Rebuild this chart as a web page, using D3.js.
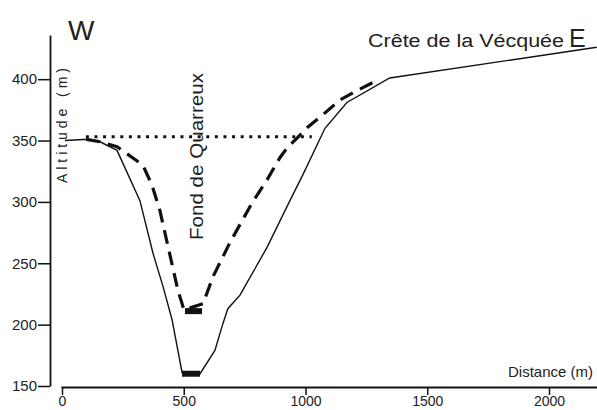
<!DOCTYPE html>
<html>
<head>
<meta charset="utf-8">
<script src="https://cdn.jsdelivr.net/npm/d3@7"></script>
<style>
  body { margin: 0; background: #fff; }
  text { font-family: "Liberation Sans", Arial, sans-serif; fill: #222; }
</style>
</head>
<body>
<svg id="chart" width="597" height="410"></svg>
<script>
// present-day profile (solid) : [distance m, altitude m]
const profileDist = [12, 107, 156, 226, 320, 374, 415, 452, 493, 567, 628, 661, 681, 731, 842, 936, 989, 1080, 1170, 1346, 2196]
const profileAlt  = [350, 351, 349, 342, 301, 258, 231, 204, 161, 160, 179, 201, 213, 224, 263, 301, 322, 360, 381, 401, 426]

// older profile (dashed)
const oldDist = [100, 156, 226, 332, 369, 402, 443, 476, 501, 579, 620, 690, 780, 842, 895, 924, 965, 1010, 1071, 1141, 1195, 1293]
const oldAlt  = [351, 349, 345, 330, 314, 293, 257, 228, 212, 217, 239, 267, 299, 318, 336, 344, 352, 361, 371, 383, 389, 399]

// valley floors (thick bars)
const floors = [
  { from: 493, to: 567, alt: 160 },
  { from: 505, to: 575, alt: 211 }
]

// dotted level line
const levelDist = [98, 1026]
const levelAlt = 353

const yTicks = [150, 200, 250, 300, 350, 400]
const xTicks = [0, 500, 1000, 1500, 2000]

const svg = d3.select("#chart")

const x = d3.scaleLinear().domain([0, 2000]).range([62, 549])
const y = d3.scaleLinear().domain([150, 436]).range([386, 35])

// axes
const xAxisScale = x.copy().domain([x.invert(61), x.invert(597)]).range([61, 597])
const gx = svg.append("g")
  .attr("transform", "translate(0,387)")
  .call(d3.axisBottom(xAxisScale).tickValues(xTicks).tickFormat(d3.format("d"))
    .tickSize(8).tickSizeOuter(0).tickPadding(1))
gx.select(".domain").attr("stroke", "#111").attr("stroke-width", 2)
gx.selectAll(".tick line").attr("stroke", "#111").attr("stroke-width", 1.5)
gx.selectAll(".tick text").attr("font-size", 14).attr("fill", "#222")
  .style("font-family", "'Liberation Sans', Arial, sans-serif")

const gy = svg.append("g")
  .attr("transform", "translate(50,0)")
  .call(d3.axisLeft(y).tickValues(yTicks).tickSize(12).tickSizeOuter(0).tickPadding(1))
gy.select(".domain").attr("stroke", "#111").attr("stroke-width", 1.8)
gy.selectAll(".tick line").attr("stroke", "#111").attr("stroke-width", 1.5)
gy.selectAll(".tick text").attr("font-size", 15).attr("fill", "#222")
  .style("font-family", "'Liberation Sans', Arial, sans-serif")

const line = d3.line()
  .x(d => x(d[0]))
  .y(d => y(d[1]))

// dotted level
svg.append("path")
  .datum(levelDist.map(d => [d, levelAlt]))
  .attr("d", line)
  .attr("fill", "none")
  .attr("stroke", "#111")
  .attr("stroke-width", 3)
  .attr("stroke-dasharray", "3,5.6")

// dashed old profile
svg.append("path")
  .datum(oldDist.map((d, i) => [d, oldAlt[i]]))
  .attr("d", line)
  .attr("fill", "none")
  .attr("stroke", "#111")
  .attr("stroke-width", 3.2)
  .attr("stroke-dasharray", "14,8")

// solid profile
svg.append("path")
  .datum(profileDist.map((d, i) => [d, profileAlt[i]]))
  .attr("d", line)
  .attr("fill", "none")
  .attr("stroke", "#111")
  .attr("stroke-width", 1.4)

// floors
svg.selectAll(".floor")
  .data(floors)
  .enter().append("line")
  .attr("class", "floor")
  .attr("x1", d => x(d.from))
  .attr("x2", d => x(d.to))
  .attr("y1", d => y(d.alt))
  .attr("y2", d => y(d.alt))
  .attr("stroke", "#111")
  .attr("stroke-width", 6)

// labels
svg.append("text").attr("x", 68).attr("y", 40).attr("font-size", 28).text("W")
svg.append("text").attr("x", 569).attr("y", 47).attr("font-size", 25).text("E")
svg.append("text").attr("x", 368).attr("y", 47).attr("font-size", 18)
  .attr("textLength", 196).attr("lengthAdjust", "spacingAndGlyphs").text("Crête de la Vécquée")
svg.append("text").attr("x", 508).attr("y", 377).attr("font-size", 15)
  .attr("textLength", 85).attr("lengthAdjust", "spacingAndGlyphs").text("Distance (m)")

svg.append("text")
  .attr("transform", "translate(67,183) rotate(-90)")
  .attr("font-size", 14)
  .attr("textLength", 115).attr("lengthAdjust", "spacing")
  .text("Altitude (m)")

svg.append("text")
  .attr("transform", "translate(203,240) rotate(-90)")
  .attr("font-size", 18)
  .attr("textLength", 167).attr("lengthAdjust", "spacingAndGlyphs")
  .text("Fond de Quarreux")
</script>
</body>
</html>
